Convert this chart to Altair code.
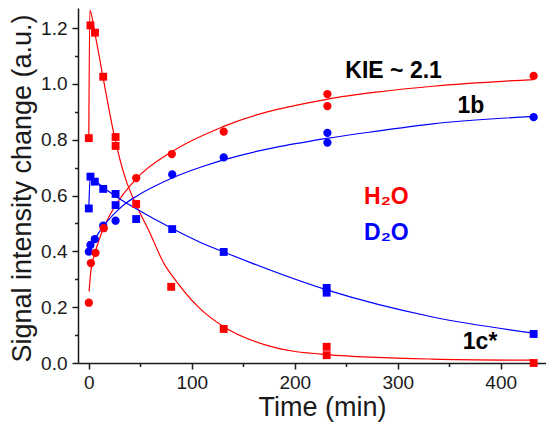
import altair as alt
import pandas as pd

# ---- measured data (read from the reference picture) ----
# 1c* in H2O (red squares)
h2o_1c_t = [0, 1.6, 6, 14, 26, 26, 46, 80, 131, 231, 231, 432]
h2o_1c_y = [0.806, 1.21, 1.184, 1.026, 0.81, 0.778, 0.57, 0.273, 0.122, 0.058, 0.028, 0.0]
# 1b in H2O (red circles)
h2o_1b_t = [0, 2, 6.5, 14.5, 46, 80.6, 131, 231.7, 231.7, 432]
h2o_1b_y = [0.216, 0.358, 0.395, 0.483, 0.663, 0.749, 0.829, 0.964, 0.921, 1.029]
# 1b in D2O (blue circles)
d2o_1b_t = [0, 1.6, 5.8, 14, 26, 81, 131, 231.7, 231.7, 432]
d2o_1b_y = [0.399, 0.423, 0.444, 0.492, 0.51, 0.676, 0.737, 0.825, 0.790, 0.881]
# 1c* in D2O (blue squares)
d2o_1c_t = [0, 1.6, 5.8, 14, 26, 26, 46, 81, 131, 231, 231, 432]
d2o_1c_y = [0.554, 0.668, 0.650, 0.624, 0.606, 0.566, 0.516, 0.48, 0.398, 0.269, 0.252, 0.104]

# ---- fitted curves ----
fit_h2o_1c_t = [0, 1, 6, 14, 25, 35, 46, 58, 74, 80, 108, 131, 173, 231, 334, 432]
fit_h2o_1c_y = [0.81, 1.265, 1.18, 1.02, 0.81, 0.668, 0.566, 0.477, 0.35, 0.318, 0.195, 0.13, 0.063, 0.030, 0.014, 0.01]
fit_h2o_1b_t = [0.3, 2, 6.5, 14.5, 26, 46, 81, 131, 231, 282, 334, 432]
fit_h2o_1b_y = [0.256, 0.33, 0.40, 0.485, 0.565, 0.66, 0.758, 0.848, 0.945, 0.972, 0.992, 1.016]
fit_d2o_1b_t = [0.5, 6, 14, 26, 35, 46, 81, 112, 131, 231, 282, 334, 432]
fit_d2o_1b_y = [0.405, 0.445, 0.49, 0.54, 0.57, 0.597, 0.663, 0.706, 0.728, 0.805, 0.832, 0.857, 0.884]
fit_d2o_1c_t = [0, 1.5, 6, 14, 26, 46, 81, 108, 131, 231, 334, 432]
fit_d2o_1c_y = [0.554, 0.675, 0.655, 0.63, 0.598, 0.553, 0.482, 0.433, 0.398, 0.262, 0.165, 0.107]

# ---- annotations ----
ann_text = ["KIE ~ 2.1", "1b", "H₂O", "D₂O", "1c*"]
ann_t = [296, 371, 289, 289, 380]
ann_y = [1.047, 0.921, 0.595, 0.466, 0.075]
ann_color = ["#000000", "#000000", "#FF0000", "#0000FF", "#000000"]

x_ticks = [0, 50, 100, 150, 200, 250, 300, 350, 400]
y_ticks = [round(i * 0.1, 1) for i in range(13)]

RED = "#FF0000"
BLUE = "#0000FF"
FONT = "Liberation Sans, Arial, DejaVu Sans"

xscale = alt.Scale(domain=[-10.5, 444], nice=False, zero=False)
yscale = alt.Scale(domain=[0, 1.2724], nice=False)

xaxis = alt.Axis(
    title="Time (min)",
    values=x_ticks,
    labelExpr="datum.value % 100 == 0 ? datum.value : ''",
    tickSize={"condition": {"test": "datum.value % 100 != 0", "value": 3.5}, "value": 6},
    grid=False,
    titleX=244,
    titleY=52,
    titleBaseline="alphabetic",
    titleAnchor="middle",
)
yaxis = alt.Axis(
    title="Signal intensity change (a.u.)",
    values=y_ticks,
    labelExpr="round(datum.value*10) % 2 == 0 ? format(datum.value, '.1f') : ''",
    tickSize={"condition": {"test": "round(datum.value*10) % 2 == 1", "value": 3.5}, "value": 6},
    grid=False,
    titleX=-42,
    titleY=180,
    titleAnchor="middle",
)

X = lambda: alt.X("t:Q", scale=xscale, axis=xaxis)
Y = lambda: alt.Y("y:Q", scale=yscale, axis=yaxis)


def line_layer(t, y, color):
    df = pd.DataFrame({"t": t, "y": y})
    return alt.Chart(df).mark_line(color=color, strokeWidth=1.2, interpolate="monotone").encode(
        x=X(), y=Y()
    )


def point_layer(t, y, color, shape, size):
    df = pd.DataFrame({"t": t, "y": y})
    return alt.Chart(df).mark_point(
        color=color, filled=True, opacity=1, shape=shape, size=size
    ).encode(x=X(), y=Y())


ann_df = pd.DataFrame({"text": ann_text, "t": ann_t, "y": ann_y, "c": ann_color})
ann = alt.Chart(ann_df).mark_text(
    font=FONT, fontSize=23, fontWeight="bold", align="center", baseline="middle"
).encode(
    x=X(),
    y=Y(),
    text="text:N",
    color=alt.Color("c:N", scale=None),
)

chart = alt.layer(
    line_layer(fit_h2o_1c_t, fit_h2o_1c_y, RED),
    line_layer(fit_h2o_1b_t, fit_h2o_1b_y, RED),
    line_layer(fit_d2o_1b_t, fit_d2o_1b_y, BLUE),
    line_layer(fit_d2o_1c_t, fit_d2o_1c_y, BLUE),
    point_layer(d2o_1b_t, d2o_1b_y, BLUE, "circle", 68),
    point_layer(h2o_1b_t, h2o_1b_y, RED, "circle", 68),
    point_layer(d2o_1c_t, d2o_1c_y, BLUE, "square", 62),
    point_layer(h2o_1c_t, h2o_1c_y, RED, "square", 62),
    ann,
).properties(
    width=468,
    height=355,
    autosize=alt.AutoSizeParams(type="none"),
    padding={"left": 70, "top": 0, "right": 0, "bottom": 59},
    background="white",
).configure_view(
    stroke=None
).configure_axis(
    domainColor="#1a1a1a",
    domainWidth=1.5,
    tickColor="#1a1a1a",
    tickWidth=1.5,
    labelFont=FONT,
    labelFontSize=19,
    labelColor="#1a1a1a",
    labelPadding=5,
    titleFont=FONT,
    titleFontSize=27,
    titleFontWeight="normal",
    titleColor="#1a1a1a",
).configure_axisX(
    labelPadding=4
)

chart.save("out.html", embed_options={"renderer": "svg", "actions": False})
